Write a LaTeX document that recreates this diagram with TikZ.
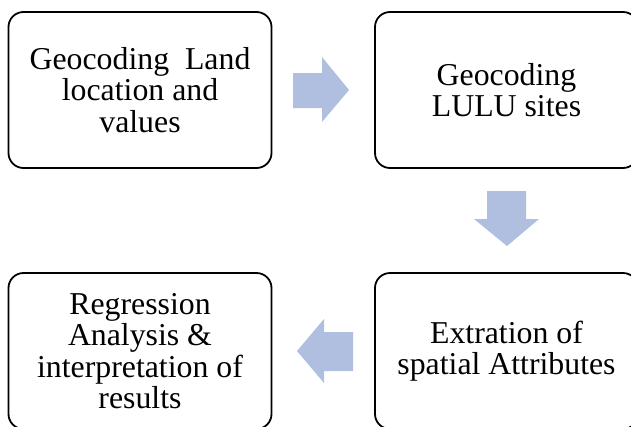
\documentclass[tikz,border=0pt]{standalone}
\usepackage{fontspec}
\setmainfont{Liberation Serif}
\definecolor{arrowblue}{RGB}{176,190,224}
\begin{document}
\begin{tikzpicture}[x=1pt,y=-1pt,
  stepbox/.style={draw=black,line width=1.8pt,rounded corners=15pt,fill=white,
    minimum width=263pt,minimum height=156pt,inner sep=0pt,align=center,
    font=\fontsize{31.8pt}{31.5pt}\selectfont},
  blockarrow/.style={fill=arrowblue,draw=none}]
\useasboundingbox (0,0) rectangle (631,426);
\node[stepbox] (a) at (140,90) {Geocoding\ \ Land\\location and\\values};
\node[stepbox] (b) at (506.5,90) {Geocoding\\LULU sites};
\node[stepbox] (c) at (506.5,351) {Extration of\\spatial Attributes};
\node[stepbox] (d) at (140,351) {Regression\\Analysis \&\\interpretation of\\results};
% right arrow
\fill[blockarrow] (293,73) -- (322,73) -- (322,57) -- (349,90) -- (322,122) -- (322,108) -- (293,108) -- cycle;
% down arrow
\fill[blockarrow] (487,191) -- (526,191) -- (526,219) -- (539,219) -- (507,246) -- (474,219) -- (487,219) -- cycle;
% left arrow
\fill[blockarrow] (353,332) -- (324,332) -- (324,319) -- (297,351) -- (324,383) -- (324,371) -- (353,371) -- cycle;
\end{tikzpicture}
\end{document}
